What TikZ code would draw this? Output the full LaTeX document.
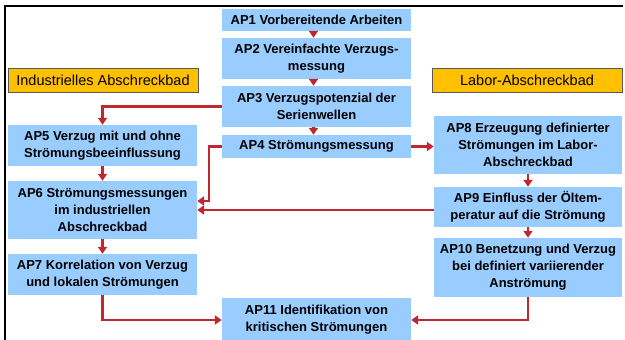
\documentclass[tikz,border=0pt]{standalone}
\usepackage{fontspec}
\setmainfont{Liberation Sans}
\usetikzlibrary{arrows.meta,calc}
\definecolor{boxblue}{RGB}{153,204,255}
\definecolor{labelorange}{RGB}{255,192,0}
\definecolor{arrowred}{RGB}{192,40,46}
\begin{document}
\begin{tikzpicture}[x=1pt,y=-1pt,
  apbox/.style={fill=boxblue,draw=none,inner sep=0pt,align=center,
    font=\fontsize{13}{17}\selectfont\bfseries},
  labelbox/.style={fill=labelorange,draw=black!65,line width=0.8pt,inner sep=0pt,
    minimum width=190pt,minimum height=24pt,font=\fontsize{14.5}{17}\selectfont},
  arr/.style={draw=arrowred,line width=2.5pt,-{Triangle[width=9pt,length=7pt]}}]
\useasboundingbox (0,0) rectangle (625,340);
% frame
\draw[line width=2pt] (623,6) -- (5,6) -- (5,341);
% labels
\node[labelbox] (ind) at (103,80) {Industrielles Abschreckbad};
\node[labelbox] (lab) at (527,80) {Labor-Abschreckbad};
% boxes
\node[apbox,minimum width=189pt,minimum height=22pt] (ap1) at (316.5,20) {AP1 Vorbereitende Arbeiten};
\node[apbox,minimum width=189pt,minimum height=41pt] (ap2) at (316.5,58.5) {AP2 Vereinfachte Verzugs-\\messung};
\node[apbox,minimum width=189pt,minimum height=41pt] (ap3) at (316.5,106.5) {AP3 Verzugspotenzial der\\Serienwellen};
\node[apbox,minimum width=189pt,minimum height=23pt] (ap4) at (316.5,146.5) {AP4 Strömungsmessung};
\node[apbox,minimum width=189pt,minimum height=41pt] (ap5) at (102.5,145.5) {AP5 Verzug mit und ohne\\Strömungsbeeinflussung};
\node[apbox,minimum width=189pt,minimum height=58pt] (ap6) at (102.5,210) {AP6 Strömungsmessungen\\im industriellen\\Abschreckbad};
\node[apbox,minimum width=189pt,minimum height=41pt] (ap7) at (102.5,274.5) {AP7 Korrelation von Verzug\\und lokalen Strömungen};
\node[apbox,minimum width=188pt,minimum height=58pt] (ap8) at (528,145) {AP8 Erzeugung definierter\\Strömungen im Labor-\\Abschreckbad};
\node[apbox,minimum width=188pt,minimum height=40pt] (ap9) at (528,207) {AP9 Einfluss der Öltem-\\peratur auf die Strömung};
\node[apbox,minimum width=188pt,minimum height=59pt] (ap10) at (528,267.5) {AP10 Benetzung und Verzug\\bei definiert variierender\\Anströmung};
\node[apbox,minimum width=189pt,minimum height=44pt] (ap11) at (316.5,320) {AP11 Identifikation von\\kritischen Strömungen};
% connectors
\draw[arr] ([xshift=-3pt]ap1.south) -- ([xshift=-3pt]ap2.north);
\draw[arr] ([xshift=-3pt]ap2.south) -- ([xshift=-3pt]ap3.north);
\draw[arr] ([xshift=-3pt]ap3.south) -- ([xshift=-3pt]ap4.north);
\draw[arr] (ap3.west) -| (ap5.north);
\draw[arr] (ap5.south) -- (ap6.north);
\draw[arr] (ap6.south) -- (ap7.north);
\coordinate (k1) at (209,201);
\draw[arr] (ap4.west) -| (k1) -- (k1 -| ap6.east);
\draw[arr] (ap4.east) -- (ap4.east -| ap8.west);
\draw[arr] (ap9.west |- ap6.east) -- (ap6.east);
\draw[arr] (ap8.south) -- (ap9.north);
\draw[arr] (ap9.south) -- (ap10.north);
\draw[arr] (ap7.south) |- (ap11.west);
\draw[arr] (ap10.south) |- (ap11.east);
\end{tikzpicture}
\end{document}
